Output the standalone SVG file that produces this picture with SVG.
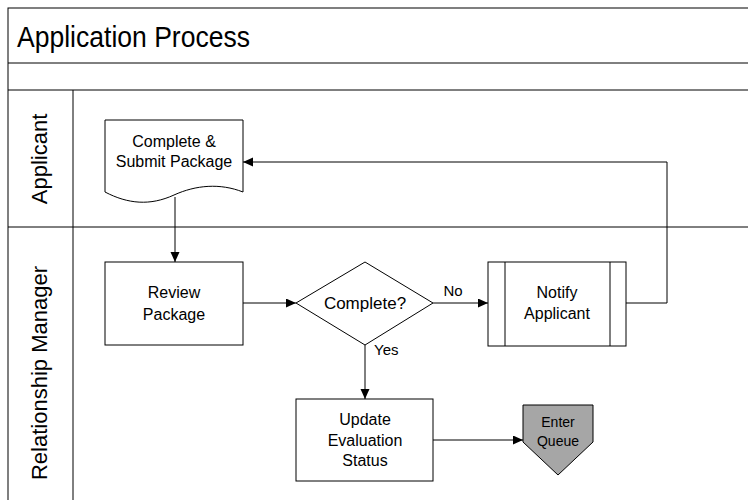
<svg xmlns="http://www.w3.org/2000/svg" width="748" height="500" viewBox="0 0 748 500">
<defs>
<style>
.ln{stroke:#000;stroke-width:1;fill:none}
.sh{stroke:#000;stroke-width:1;fill:#fff}
.t{font-family:"Liberation Sans",Arial,sans-serif;fill:#000;text-anchor:middle}
.c{stroke:#000;stroke-width:1;fill:none;marker-end:url(#ah)}
</style>
<marker id="ah" markerUnits="userSpaceOnUse" markerWidth="11" markerHeight="10" refX="10" refY="4.5" orient="auto">
<path d="M0,0 L10,4.5 L0,9 z" fill="#000"/>
</marker>
</defs>
<rect width="748" height="500" fill="#fff"/>
<g id="frame">
<rect x="8" y="8" width="760" height="520" class="ln"/>
<line x1="8" y1="63" x2="748" y2="63" class="ln"/>
<line x1="8" y1="90" x2="748" y2="90" class="ln"/>
<line x1="8" y1="227" x2="748" y2="227" class="ln"/>
<line x1="73" y1="90" x2="73" y2="500" class="ln"/>
<text x="17" y="47" font-family="Liberation Sans, Arial, sans-serif" font-size="29" textLength="233" lengthAdjust="spacingAndGlyphs">Application Process</text>
<text class="t" font-size="22" transform="translate(47,159) rotate(-90)">Applicant</text>
<text class="t" font-size="22" transform="translate(47,373) rotate(-90)">Relationship Manager</text>
</g>
<g id="connectors">
<line x1="175" y1="197" x2="175" y2="262" class="c"/>
<line x1="243" y1="303" x2="296" y2="303" class="c"/>
<line x1="433" y1="303" x2="488" y2="303" class="c"/>
<polyline points="626,303 667,303 667,162 243,162" class="c"/>
<line x1="365" y1="345" x2="365" y2="399" class="c"/>
<line x1="433" y1="440" x2="523" y2="440" class="c"/>
<text class="t" x="453" y="296" font-size="15">No</text>
<text x="374" y="355" font-family="Liberation Sans, Arial, sans-serif" font-size="15">Yes</text>
</g>
<g id="complete-submit">
<path d="M105,120 H243 V192 C220,183 196,185 174,195 C150,206 128,204 105,192 Z" class="sh"/>
<text class="t" x="174" y="147" font-size="16">Complete &amp;</text>
<text class="t" x="174" y="167" font-size="16">Submit Package</text>
</g>
<g id="review-package">
<rect x="105" y="262" width="138" height="83" class="sh"/>
<text class="t" x="174" y="298" font-size="16">Review</text>
<text class="t" x="174" y="320" font-size="16">Package</text>
</g>
<g id="complete-decision">
<polygon points="296,303 365,262 433,303 365,345" class="sh"/>
<text class="t" x="365" y="309" font-size="17">Complete?</text>
</g>
<g id="notify-applicant">
<rect x="488" y="262" width="138" height="84" class="sh"/>
<line x1="505" y1="262" x2="505" y2="346" class="ln"/>
<line x1="610" y1="262" x2="610" y2="346" class="ln"/>
<text class="t" x="557" y="298" font-size="16">Notify</text>
<text class="t" x="557" y="319" font-size="16">Applicant</text>
</g>
<g id="update-status">
<rect x="296" y="399" width="137" height="82" class="sh"/>
<text class="t" x="365" y="425" font-size="16">Update</text>
<text class="t" x="365" y="446" font-size="16">Evaluation</text>
<text class="t" x="365" y="466" font-size="16">Status</text>
</g>
<g id="enter-queue">
<polygon points="523,405 593,405 593,442 558,475 523,442" fill="#a6a6a6" stroke="#000" stroke-width="1"/>
<text class="t" x="558" y="427" font-size="14">Enter</text>
<text class="t" x="558" y="446" font-size="14">Queue</text>
</g>
</svg>
